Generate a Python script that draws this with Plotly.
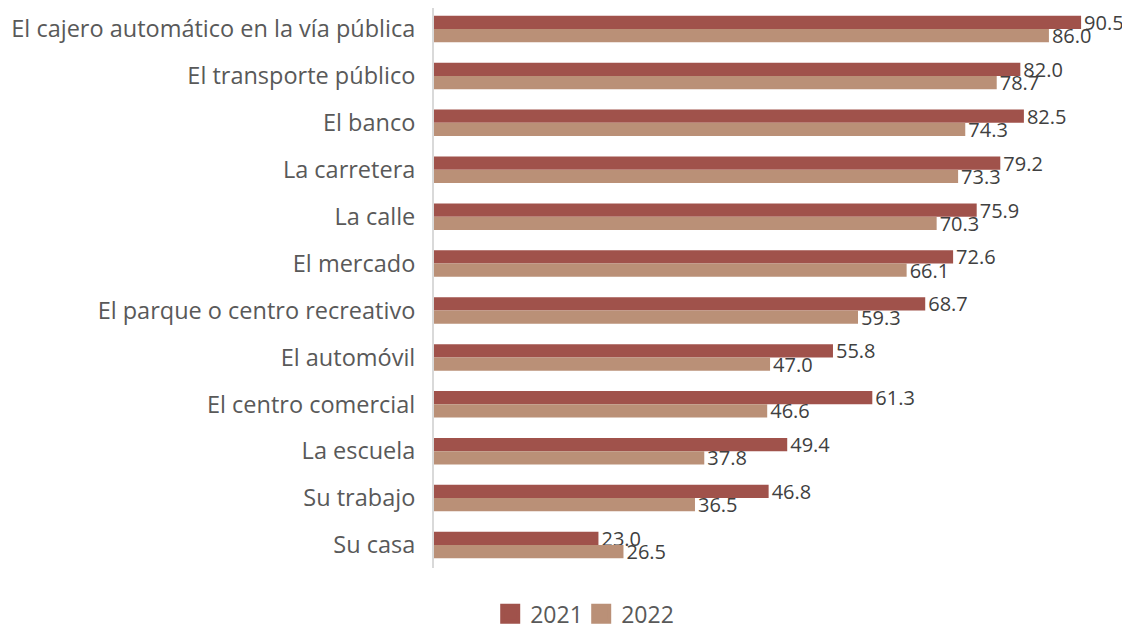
import plotly.graph_objects as go

categories = ["El cajero automático en la vía pública", "El transporte público", "El banco",
              "La carretera", "La calle", "El mercado", "El parque o centro recreativo",
              "El automóvil", "El centro comercial", "La escuela", "Su trabajo", "Su casa"]
v2021 = [90.5, 82.0, 82.5, 79.2, 75.9, 72.6, 68.7, 55.8, 61.3, 49.4, 46.8, 23.0]
v2022 = [86.0, 78.7, 74.3, 73.3, 70.3, 66.1, 59.3, 47.0, 46.6, 37.8, 36.5, 26.5]
series = [("2021", v2021, "#A0524B"), ("2022", v2022, "#BA9077")]
legend_widths = [46, 80]

FONT = "Open Sans"
fig = go.Figure()
for name, vals, col in series:
    fig.add_trace(go.Bar(y=categories, x=vals, name=name, orientation="h",
                         marker=dict(color=col, line=dict(width=0)),
                         text=[f"{v:.1f}" for v in vals], textposition="outside",
                         constraintext="none", showlegend=False, legendgroup=name,
                         textfont=dict(size=20, color="#404040", family=FONT), cliponaxis=False))
for (name, vals, col), lw in zip(series, legend_widths):
    fig.add_trace(go.Scatter(x=[None], y=[None], mode="markers", name=name, legendgroup=name,
                             legendwidth=lw,
                             marker=dict(symbol="square", size=20, color=col,
                                         line=dict(width=4, color=col))))

fig.update_layout(
    width=1130, height=628,
    margin=dict(l=426, r=10, t=0, b=68, autoexpand=False),
    barmode="group", bargap=0.435, bargroupgap=0,
    plot_bgcolor="white", paper_bgcolor="white",
    font=dict(family=FONT, color="#595959"),
    xaxis=dict(range=[0, 97.06], showticklabels=False, showgrid=False, zeroline=False,
               showline=False, ticks="", fixedrange=True, automargin=False),
    yaxis=dict(range=[11.49, -0.448], showline=True, linecolor="#D9D9D9", linewidth=2,
               ticks="", tickfont=dict(size=23.5, color="#595959", family=FONT),
               ticklabelstandoff=12, automargin=False),
    legend=dict(orientation="h", x=0.081, xanchor="left", itemsizing="trace",
                y=-0.082, yanchor="middle", font=dict(size=23, color="#595959", family=FONT),
                itemwidth=30),
    showlegend=True,
)
fig.write_html("out.html")
